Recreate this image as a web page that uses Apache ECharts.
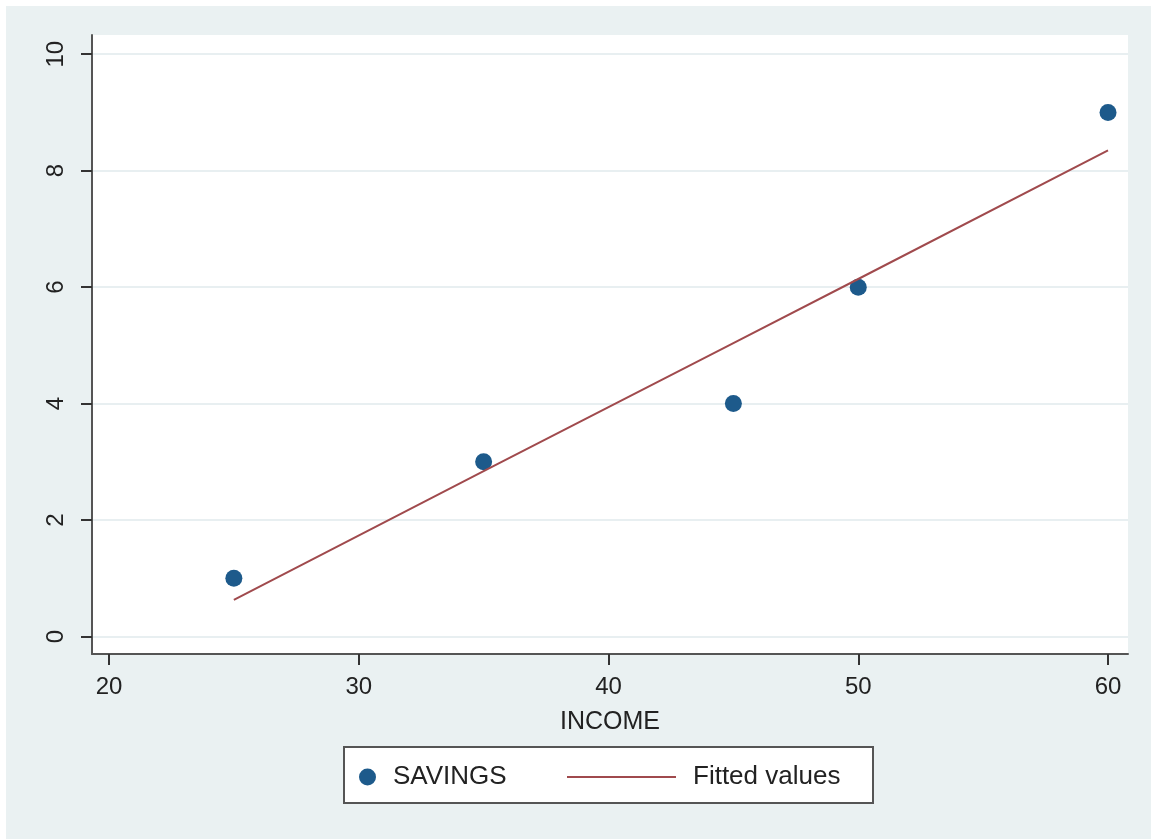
<!DOCTYPE html>
<html>
<head>
<meta charset="utf-8">
<script src="https://cdn.jsdelivr.net/npm/echarts@6/dist/echarts.min.js"></script>
<style>
  html, body { margin: 0; padding: 0; background: #eaf1f2; }
  #chart { width: 1151px; height: 839px; }
</style>
</head>
<body>
<div id="chart"></div>
<script>
// data
const income = [25, 35, 45, 50, 60]
const savings = [1, 3, 4, 6, 9]
const fitIncome = [25, 35, 45, 50, 60]
const fitValues = [0.63, 2.84, 5.04, 6.14, 8.35]
const xTicks = [20, 30, 40, 50, 60]
const yTicks = [0, 2, 4, 6, 8, 10]

const font = 'Liberation Sans'
const chart = echarts.init(document.getElementById('chart'))

chart.setOption({
  backgroundColor: '#eaf1f2',
  animation: false,
  textStyle: { fontFamily: font },
  grid: {
    left: 92,
    right: 23,
    top: 35,
    bottom: 185,
    show: true,
    backgroundColor: '#fff',
    borderWidth: 0
  },
  xAxis: {
    type: 'value',
    min: 19.32,
    max: 60.8,
    name: 'INCOME',
    nameLocation: 'middle',
    nameGap: 56,
    nameTextStyle: { color: '#222', fontSize: 25, fontFamily: font },
    axisLine: { show: true, onZero: false, lineStyle: { color: '#555', width: 2 } },
    axisTick: { show: true, length: 11, lineStyle: { color: '#333', width: 2 }, customValues: xTicks },
    axisLabel: { color: '#222', fontSize: 24, margin: 21, customValues: xTicks },
    splitLine: { show: false }
  },
  yAxis: {
    type: 'value',
    min: -0.3,
    max: 10.33,
    axisLine: { show: true, onZero: false, lineStyle: { color: '#555', width: 2 } },
    axisTick: { show: true, length: 11, lineStyle: { color: '#333', width: 2 }, customValues: yTicks },
    axisLabel: { color: '#222', fontSize: 24, rotate: 90, margin: 24, customValues: yTicks },
    splitLine: { show: true, lineStyle: { color: '#e8eff1', width: 2 } }
  },
  graphic: [{
    // thin white edge at top and left of the exported image
    type: 'rect',
    shape: { x: 0, y: 0, width: 1151, height: 6 },
    style: { fill: '#fff' },
    z: -1
  }, {
    type: 'rect',
    shape: { x: 0, y: 0, width: 6, height: 839 },
    style: { fill: '#fff' },
    z: -1
  }, {
    type: 'rect',
    shape: { x: 344, y: 747, width: 529, height: 56 },
    style: { fill: '#fff', stroke: '#555', lineWidth: 2 },
    z: -1
  }],
  legend: [{
    data: ['SAVINGS'],
    left: 354,
    top: 759,
    icon: 'circle',
    itemWidth: 17,
    itemHeight: 17,
    textStyle: { color: '#222', fontSize: 26, fontFamily: font, padding: [0, 0, 0, 12] }
  }, {
    data: ['Fitted values'],
    left: 562,
    top: 759,
    icon: 'rect',
    itemWidth: 109,
    itemHeight: 2,
    textStyle: { color: '#222', fontSize: 26, fontFamily: font, padding: [0, 0, 0, 12] }
  }],
  series: [{
    name: 'SAVINGS',
    type: 'scatter',
    symbolSize: 17,
    itemStyle: { color: '#1d5a8b', opacity: 1 },
    data: income.map((x, i) => [x, savings[i]]),
    z: 2
  }, {
    name: 'Fitted values',
    type: 'line',
    symbol: 'none',
    lineStyle: { color: '#a04a4d', width: 2 },
    itemStyle: { color: '#a04a4d' },
    data: fitIncome.map((x, i) => [x, fitValues[i]]),
    z: 3
  }]
})
</script>
</body>
</html>
